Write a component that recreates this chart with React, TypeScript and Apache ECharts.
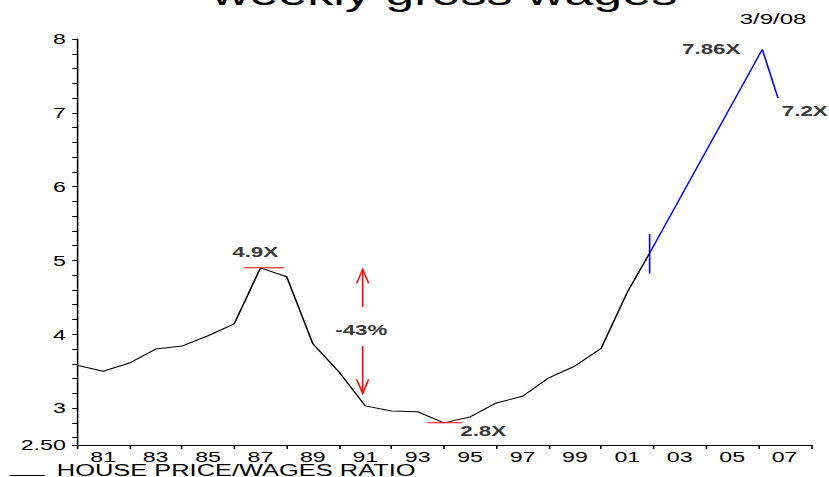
import React, { useEffect, useRef } from "react";
import * as echarts from "echarts";

// Horizontal stretch applied to the whole chart surface
const STRETCH = 1.6;
const FULL_W = 829;
const FULL_H = 477;
const BASE_W = FULL_W / STRETCH;

const FONT = "'Liberation Sans', Arial, sans-serif";

// House price / wages ratio, annual
const ratioYears = [
  1980, 1981, 1982, 1983, 1984, 1985, 1986, 1987, 1988, 1989, 1990, 1991,
  1992, 1993, 1994, 1995, 1996, 1997, 1998, 1999, 2000, 2001, 2001.85,
];
const ratioValues = [
  3.58, 3.5, 3.61, 3.8, 3.84, 3.98, 4.14, 4.9, 4.78, 3.87, 3.49, 3.03, 2.96,
  2.95, 2.8, 2.88, 3.07, 3.16, 3.41, 3.57, 3.81, 4.57, 5.1,
];

// Recent run-up (blue)
const recentYears = [2001.85, 2006.15, 2006.75];
const recentValues = [5.1, 7.86, 7.2];

// Vertical marker where the two segments join
const joinYear = 2001.85;
const joinRange = [4.82, 5.36];

// Red horizontal bars at the peak and the trough
const peakBarYears = [1986.35, 1987.9];
const peakBarValue = 4.9;
const troughBarYears = [1993.37, 1994.7];
const troughBarValue = 2.8;

// Red arrows: [year, tail value, tip value]
const arrowData = [
  [1990.9, 4.37, 4.88],
  [1990.9, 3.84, 3.2],
];

// Annotation texts: [year, value, text]
const noteData: [number, number, string][] = [
  [1986.8, 5.11, "4.9X"],
  [1990.85, 4.06, "-43%"],
  [1995.5, 2.69, "2.8X"],
  [2004.2, 7.86, "7.86X"],
  [2007.77, 7.02, "7.2X"],
];

const xTickYears = [
  1980, 1982, 1984, 1986, 1988, 1990, 1992, 1994, 1996, 1998, 2000, 2002, 2004,
  2006, 2008,
];
const xLabelYears = [
  1981, 1983, 1985, 1987, 1989, 1991, 1993, 1995, 1997, 1999, 2001, 2003, 2005,
  2007,
];
const yLabelValues = [2.5, 3, 4, 5, 6, 7, 8];
const yTickValues = [
  2.5, 2.6, 2.8, 3, 3.2, 3.4, 3.6, 3.8, 4, 4.2, 4.4, 4.6, 4.8, 5, 5.2, 5.4, 5.6,
  5.8, 6, 6.2, 6.4, 6.6, 6.8, 7, 7.2, 7.4, 7.6, 7.8, 8,
];

const seriesName = "HOUSE PRICE/WAGES RATIO";
const titleText = "weekly gross wages";
const dateText = "3/9/08";

export default function App() {
  const ref = useRef<HTMLDivElement>(null);

  useEffect(() => {
    if (!ref.current) return;
    const chart = echarts.init(ref.current, undefined, { renderer: "svg" });

    const option: any = {
      animation: false,
      backgroundColor: "#ffffff",
      grid: { left: 77 / STRETCH, right: (829 - 811) / STRETCH, top: 39, bottom: 32 },
      legend: {
        data: [seriesName],
        left: 6,
        top: 462,
        padding: 0,
        itemWidth: 22,
        itemHeight: 12,
        itemGap: 0,
        icon: "path://M0 0h22v0.01h-22z M0 11h22v1h-22z",
        itemStyle: { color: "#000" },
        textStyle: {
          color: "#000",
          fontFamily: FONT,
          fontSize: 15.9,
          lineHeight: 12,
          padding: [0, 0, 0, 2.5],
        },
      },
      xAxis: {
        type: "value",
        min: 1980,
        max: 2008,
        splitLine: { show: false },
        axisLine: { show: true, lineStyle: { color: "#000", width: 1 } },
        axisTick: {
          show: true,
          length: 4,
          customValues: xTickYears,
          lineStyle: { color: "#000" },
        },
        axisLabel: {
          customValues: xLabelYears,
          formatter: (v: number) => String(Math.round(v)).slice(2),
          color: "#000",
          fontFamily: FONT,
          fontSize: 14.5,
          lineHeight: 10,
          margin: 7,
        },
      },
      yAxis: {
        type: "value",
        min: 2.5,
        max: 8,
        splitLine: { show: false },
        axisLine: { show: true, lineStyle: { color: "#000", width: 1 } },
        axisTick: {
          show: true,
          length: 3,
          customValues: yTickValues,
          lineStyle: { color: "#000" },
        },
        axisLabel: {
          customValues: yLabelValues,
          formatter: (v: number) => (v === 2.5 ? "2.50" : String(v)),
          color: "#000",
          fontFamily: FONT,
          fontSize: 14.5,
          margin: 7,
        },
      },
      graphic: [
        {
          type: "text",
          x: 444.5 / STRETCH,
          y: -6,
          style: {
            text: titleText,
            font: `32.5px ${FONT}`,
            fill: "#000",
            textAlign: "center",
            textVerticalAlign: "middle",
          },
        },
        {
          type: "text",
          x: 773 / STRETCH,
          y: 19,
          style: {
            text: dateText,
            font: `15px ${FONT}`,
            fill: "#000",
            textAlign: "center",
            textVerticalAlign: "middle",
          },
        },
      ],
      series: [
        {
          name: seriesName,
          type: "line",
          data: ratioYears.map((y, i) => [y, ratioValues[i]]),
          showSymbol: false,
          lineStyle: { color: "#000", width: 1 },
          itemStyle: { color: "#000" },
        },
        {
          name: "recent",
          type: "line",
          data: recentYears.map((y, i) => [y, recentValues[i]]),
          showSymbol: false,
          lineStyle: { color: "#0000ff", width: 1 },
        },
        {
          name: "join",
          type: "line",
          data: joinRange.map((v) => [joinYear, v]),
          showSymbol: false,
          lineStyle: { color: "#0000ff", width: 1 },
        },
        {
          name: "peak",
          type: "line",
          data: peakBarYears.map((y) => [y, peakBarValue]),
          showSymbol: false,
          lineStyle: { color: "#ff0000", width: 1 },
        },
        {
          name: "trough",
          type: "line",
          data: troughBarYears.map((y) => [y, troughBarValue]),
          showSymbol: false,
          lineStyle: { color: "#ff0000", width: 1 },
        },
        {
          name: "arrows",
          type: "custom",
          data: arrowData,
          encode: { x: 0, y: [1, 2] },
          renderItem: (_params: any, api: any) => {
            const x = api.value(0);
            const p0 = api.coord([x, api.value(1)]);
            const p1 = api.coord([x, api.value(2)]);
            const d = p1[1] > p0[1] ? 1 : -1;
            const hw = 6 / STRETCH;
            const hl = 14;
            const style = { stroke: "#ff0000", lineWidth: 1, fill: null };
            return {
              type: "group",
              children: [
                {
                  type: "line",
                  shape: { x1: p0[0], y1: p0[1], x2: p1[0], y2: p1[1] },
                  style,
                },
                {
                  type: "polyline",
                  shape: {
                    points: [
                      [p1[0] - hw, p1[1] - d * hl],
                      [p1[0], p1[1]],
                      [p1[0] + hw, p1[1] - d * hl],
                    ],
                  },
                  style,
                },
              ],
            };
          },
        },
        {
          name: "notes",
          type: "scatter",
          symbolSize: 0,
          clip: false,
          data: noteData.map(([x, y, t]) => ({ value: [x, y], name: t })),
          label: {
            show: true,
            position: "inside",
            formatter: (p: any) => p.name,
            color: "#000",
            fontFamily: FONT,
            fontWeight: "bold",
            fontSize: 14,
          },
        },
      ],
    };

    chart.setOption(option);
    return () => chart.dispose();
  }, []);

  return (
    <div
      style={{
        position: "fixed",
        left: 0,
        top: 0,
        width: FULL_W,
        height: FULL_H,
        overflow: "hidden",
        background: "#fff",
      }}
    >
      <div
        ref={ref}
        style={{
          width: BASE_W,
          height: FULL_H,
          transform: `scaleX(${STRETCH})`,
          transformOrigin: "0 0",
        }}
      />
    </div>
  );
}
